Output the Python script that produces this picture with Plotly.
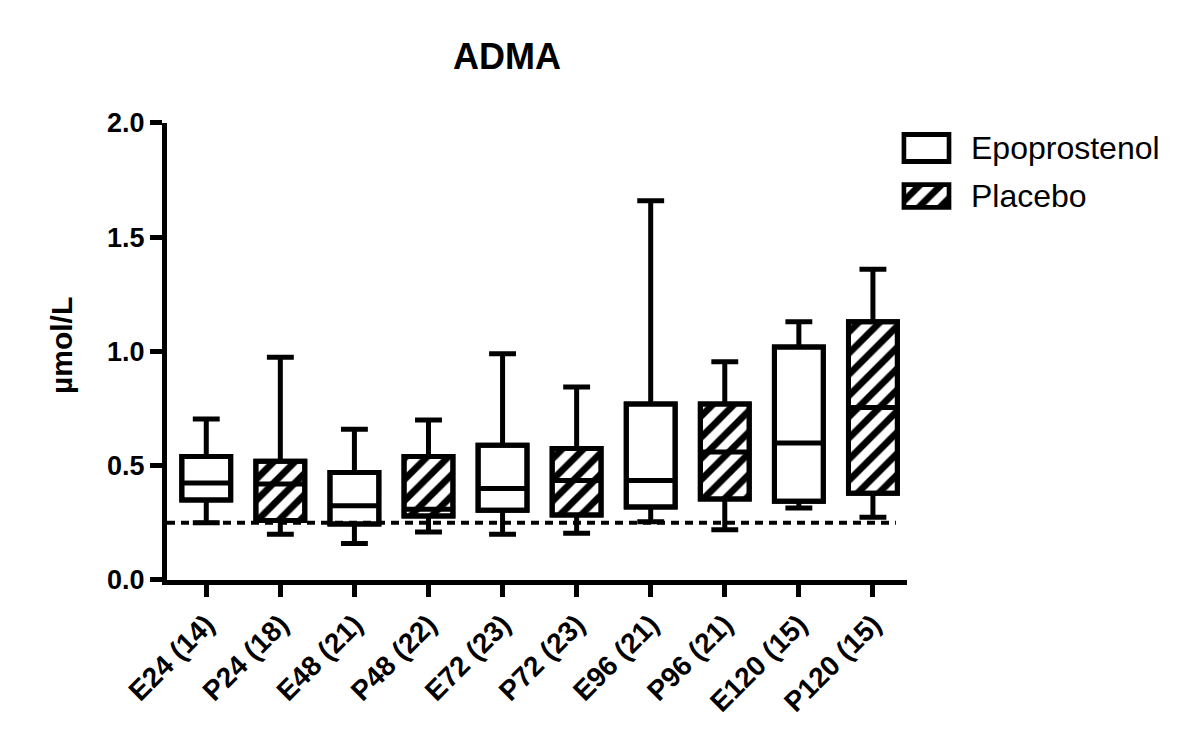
import plotly.graph_objects as go

# box summaries (umol/L)
groups = ["E24 (14)", "P24 (18)", "E48 (21)", "P48 (22)", "E72 (23)",
          "P72 (23)", "E96 (21)", "P96 (21)", "E120 (15)", "P120 (15)"]
lower = [0.25, 0.20, 0.16, 0.21, 0.20, 0.205, 0.255, 0.22, 0.315, 0.275]
q1 = [0.35, 0.26, 0.245, 0.28, 0.305, 0.285, 0.32, 0.355, 0.345, 0.38]
median = [0.425, 0.42, 0.325, 0.31, 0.40, 0.435, 0.435, 0.56, 0.60, 0.755]
q3 = [0.54, 0.52, 0.47, 0.54, 0.59, 0.575, 0.77, 0.77, 1.02, 1.13]
upper = [0.705, 0.975, 0.66, 0.70, 0.99, 0.845, 1.66, 0.955, 1.13, 1.36]
ref_line = 0.25

series_names = ["Epoprostenol", "Placebo"]
y_ticks = [0.0, 0.5, 1.0, 1.5, 2.0]

FONT = "Arial, Liberation Sans, sans-serif"
BOX_W = 0.66
LW = 5
hatch = dict(shape="/", fgcolor="black", fgopacity=1, bgcolor="white", size=15, solidity=0.45)

fig = go.Figure()

# box bodies as bars so placebo can be hatched
for k, name in enumerate(series_names):
    xs = groups[k::2]
    b = q1[k::2]
    h = [t - s for s, t in zip(q1[k::2], q3[k::2])]
    fig.add_trace(go.Bar(
        x=xs, y=h, base=b, width=BOX_W, name=name, showlegend=False,
        marker=dict(color="white", line=dict(color="black", width=LW),
                    pattern=hatch if k == 1 else dict(shape="")),
        hoverinfo="skip"))

# whiskers + median on top
fig.add_trace(go.Box(
    x=groups, q1=q1, median=median, q3=q3, lowerfence=lower, upperfence=upper,
    width=BOX_W, whiskerwidth=0.55, fillcolor="rgba(0,0,0,0)",
    line=dict(color="black", width=LW), boxpoints=False, showlegend=False))

# legend swatches on little helper axes
for k, name in enumerate(series_names):
    ax = str(k + 2)
    fig.add_trace(go.Bar(
        x=[0], y=[1], width=1, xaxis="x" + ax, yaxis="y" + ax, showlegend=False,
        marker=dict(color="white", line=dict(color="black", width=5),
                    pattern=hatch if k == 1 else dict(shape="")),
        hoverinfo="skip"))

fig.add_shape(type="line", xref="x", yref="y", x0=-0.53, x1=9.31,
              y0=ref_line, y1=ref_line, layer="above",
              line=dict(color="black", width=4, dash="8px,6px"))

fig.add_annotation(text="µmol/L", xref="paper", yref="paper", x=0.02845, y=0.5521,
                   xanchor="center", yanchor="middle",
                   textangle=-90, showarrow=False,
                   font=dict(family=FONT, size=30, color="black", weight="bold"))
leg_y = [0.8310, 0.7634]
for k, name in enumerate(series_names):
    fig.add_annotation(text=name, xref="paper", yref="paper", x=0.8112, y=leg_y[k],
                       xanchor="left", yanchor="middle", showarrow=False,
                       font=dict(family=FONT, size=32, color="black"))

hidden = dict(visible=False, fixedrange=True)
fig.update_layout(
    width=1200, height=750,
    margin=dict(l=20, r=20, t=20, b=20, autoexpand=False),
    paper_bgcolor="white", plot_bgcolor="white",
    barmode="overlay", boxmode="overlay",
    title=dict(text="<b>ADMA</b>", x=0.4158, y=0.936, xref="container", yref="container",
               xanchor="center", yanchor="middle",
               font=dict(family=FONT, size=36, color="black")),
    font=dict(family=FONT, color="black"),
    xaxis=dict(domain=[0.11983, 0.75776], type="category",
               categoryorder="array", categoryarray=groups,
               range=[-0.53, 9.46], showline=True, linewidth=LW, linecolor="black",
               ticks="outside", ticklen=12, tickwidth=LW, tickcolor="black",
               tickangle=-45, showgrid=False, zeroline=False,
               tickfont=dict(family=FONT, size=28, color="black", weight="bold")),
    yaxis=dict(domain=[0.22254, 0.86620], range=[0, 2.0],
               tickvals=y_ticks, tickformat=".1f",
               showline=True, linewidth=LW, linecolor="black",
               ticks="outside", ticklen=12, tickwidth=LW, tickcolor="black",
               showgrid=False, zeroline=False,
               tickfont=dict(family=FONT, size=27, color="black", weight="bold")),
    xaxis2=dict(hidden, domain=[0.7530, 0.7961], range=[-0.55, 0.55], anchor="y2"),
    yaxis2=dict(hidden, domain=[0.8082, 0.8538], range=[-0.1, 1.1], anchor="x2"),
    xaxis3=dict(hidden, domain=[0.7530, 0.7961], range=[-0.55, 0.55], anchor="y3"),
    yaxis3=dict(hidden, domain=[0.7440, 0.7828], range=[-0.1, 1.1], anchor="x3"),
)

fig.write_html("out.html")
